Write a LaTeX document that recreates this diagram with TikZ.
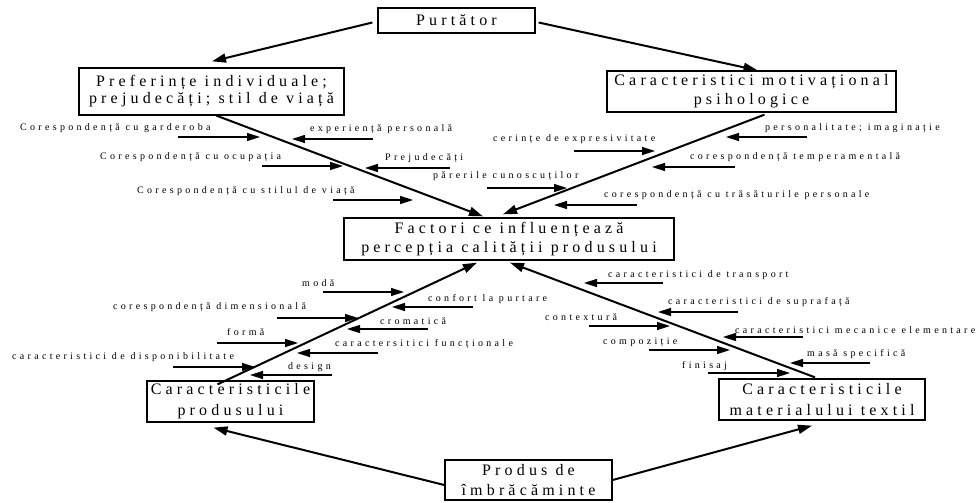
\documentclass[tikz,border=0pt]{standalone}
\usepackage{fontspec}
\newfontfamily\boxfont[LetterSpace=26,Ligatures=NoCommon]{Liberation Serif}
\newfontfamily\labfont[LetterSpace=33,Ligatures=NoCommon]{Liberation Serif}
\usetikzlibrary{arrows.meta,calc}
% name, text x, text y, text, arrow start x, arrow end x, arrow y
\newcommand\flab[7]{%
  \node[lab] (#1) at (#2,#3) {#4};
  \coordinate (#1s) at (#5,#7);
  \coordinate (#1e) at (#6,#7);
  \draw[arr] (#1s) -- (#1e);}
\begin{document}
\begin{tikzpicture}[x=1pt,y=-1pt,
  box/.style={draw,line width=1.3pt,inner sep=0pt,align=center},
  bfont/.style={font=\boxfont\fontsize{16}{#1}\selectfont},
  lab/.style={anchor=west,inner sep=0pt,font=\labfont\fontsize{10}{12}\selectfont},
  arr/.style={line width=1.5pt,-{Triangle[length=13pt,width=8pt]}},
  mainarr/.style={line width=2pt,-{Triangle[length=14pt,width=9pt]}}]
\fill[white] (0,0) rectangle (980,503);
\useasboundingbox (0,0) rectangle (980,503);

% boxes
\node[box,bfont=18,minimum width=157pt,minimum height=25pt] (pur) at (456.5,20.5) {Purtător};
\node[box,bfont=17,minimum width=265pt,minimum height=47pt] (pref) at (211.5,91.5) {Preferințe individuale;\\prejudecăți; stil de viață};
\node[box,bfont=19,minimum width=289pt,minimum height=41pt] (mot) at (751.5,91.5) {Caracteristici motivațional\\psihologice};
\node[box,bfont=19,minimum width=330pt,minimum height=42pt] (fact) at (509,239) {Factori ce influențează\\percepția calității produsului};
\node[box,bfont=21,minimum width=167pt,minimum height=41pt] (prod) at (230.5,401.5) {Caracteristicile\\produsului};
\node[box,bfont=21,minimum width=206pt,minimum height=41pt] (mat) at (822,399.5) {Caracteristicile\\materialului textil};
\node[box,bfont=20,minimum width=167pt,minimum height=40pt] (imb) at (528.5,480) {Produs de\\îmbrăcăminte};

% main connectors
\draw[mainarr] ($(pur.west)+(-5,2)$) -- ($(pref.north)+(0.5,-6)$);
\draw[mainarr] ($(pur.east)+(3,2)$) -- ($(mot.north)+(6,0)$);
\draw[mainarr] ($(pref.south)+(5,0)$) -- ($(fact.north)+(-26,-1)$);
\draw[mainarr] ($(mot.south)+(13,2)$) -- ($(fact.north)+(-6,-3)$);
\draw[mainarr] ($(prod.north)+(-13,4)$) -- ($(fact.south)+(-32,2)$);
\draw[mainarr] ($(mat.north)+(-7,-1)$) -- ($(fact.south)+(1,2)$);
\draw[mainarr] ($(imb.west)+(0,5)$) -- ($(prod.south)+(-17,5)$);
\draw[mainarr] (imb.east) -- ($(mat.south)+(-10,5)$);

% upper left
\flab{a1}{20}{128}{Corespondență cu garderoba}{178}{260}{137}
\flab{a2}{310}{129}{experiență personală}{373}{292}{139}
\flab{a3}{100}{157}{Corespondență cu ocupația}{262}{343}{166}
\flab{a4}{385}{158}{Prejudecăți}{450}{365}{168}
\flab{a5}{433}{176}{părerile cunoscuților}{487}{567}{188}
\flab{a6}{137}{191}{Corespondență cu stilul de viață}{333}{413}{200}
% upper right
\flab{b1}{765}{128}{personalitate; imaginație}{807}{726}{137}
\flab{b2}{493}{139}{cerințe de expresivitate}{574}{655}{151}
\flab{b3}{690}{157}{corespondență temperamentală}{735}{652}{167}
\flab{b4}{604}{195}{corespondență cu trăsăturile personale}{637}{554}{205}
% lower left
\flab{c1}{302}{283}{modă}{323}{404}{292}
\flab{c2}{428}{299}{confort la purtare}{473}{392}{307}
\flab{c3}{113}{307}{corespondență dimensională}{277}{358}{318}
\flab{c4}{380}{321}{cromatică}{428}{347}{329}
\flab{c5}{227}{332}{formă}{217}{298}{343}
\flab{c6}{335}{344}{caractersitici funcționale}{378}{297}{353}
\flab{c7}{12}{357}{caracteristici de disponibilitate}{173}{255}{367}
\flab{c8}{288}{367}{design}{332}{250}{375}
% lower right
\flab{d1}{608}{275}{caracteristici de transport}{663}{584}{283}
\flab{d2}{668}{302}{caracteristici de suprafață}{738}{658}{312}
\flab{d3}{545}{317}{contextură}{589}{670}{326}
\flab{d4}{735}{330}{caracteristici mecanice elementare}{803}{723}{337}
\flab{d5}{603}{342}{compoziție}{649}{730}{350}
\flab{d6}{807}{354}{masă specifică}{870}{790}{363}
\flab{d7}{682}{366}{finisaj}{708}{790}{373}
\end{tikzpicture}
\end{document}
